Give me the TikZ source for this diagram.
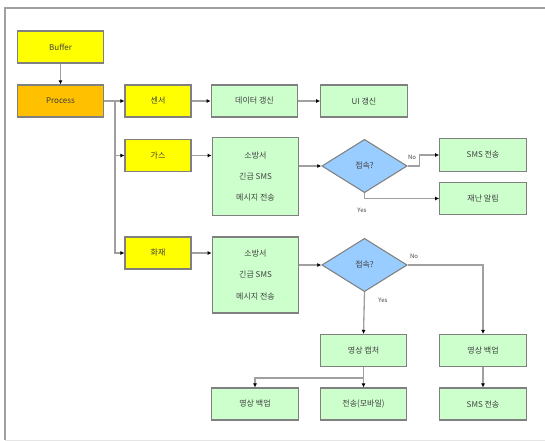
\documentclass[tikz,border=0pt]{standalone}
\usepackage{fontspec}
\setmainfont{Noto Sans CJK KR}
\usetikzlibrary{arrows.meta,positioning,shapes.geometric}
\definecolor{boxyellow}{HTML}{FFFF00}
\definecolor{boxorange}{HTML}{FFC000}
\definecolor{boxgreen}{HTML}{CCFFCC}
\definecolor{boxblue}{HTML}{99CCFF}
\definecolor{edgegray}{HTML}{808080}
\definecolor{linegray}{HTML}{A0A0A0}

\begin{document}
\begin{tikzpicture}[
    x=0.75pt, y=-0.75pt,
    every node/.style = {font=\fontsize{6}{16}\selectfont, text=black!75},
    box/.style = {draw=edgegray, line width=0.8pt, align=center, inner sep=1pt,
                  minimum width=65pt, minimum height=24pt},
    ybox/.style = {box, fill=boxyellow, minimum width=49.5pt},
    gbox/.style = {box, fill=boxgreen},
    decide/.style = {diamond, draw=edgegray, line width=0.8pt, fill=boxblue, inner sep=0pt,
                     minimum width=64pt, minimum height=40pt},
    link/.style = {draw=linegray, line width=1pt, -{Latex[length=3pt, width=3pt, black]}},
    tag/.style = {font=\fontsize{4.5}{5}\selectfont}
  ]
  \useasboundingbox (0,0) rectangle (545,441);
  \draw[linegray, line width=1.2pt] (5,440) -- (5,8) -- (545,8);
  \draw[black!10, line width=0.6pt] (5,440) -- (545,440);

  \node[box, fill=boxyellow] (buffer) at (60.5,47) {Buffer};
  \node[box, fill=boxorange] (process) at (60.5,101) {Process};

  \node[ybox] (sensor) at (158,101) {센서};
  \node[ybox] (gas) at (158,155.5) {가스};
  \node[ybox] (fire) at (158,253) {화재};

  \node[gbox] (data) at (254.5,101) {데이터 갱신};
  \node[gbox] (ui) at (364,101) {UI 갱신};

  \node[gbox, minimum height=58pt] (stationgas) at (255.5,176.5) {소방서\\긴급 SMS\\메시지 전송};
  \node[decide] (conngas) at (364.5,166) {접속?};
  \node[gbox, minimum height=25pt] (smsgas) at (483,155) {SMS 전송};
  \node[gbox] (alarm) at (483,198.5) {재난 알림};

  \node[gbox, minimum height=57pt] (stationfire) at (255.5,275) {소방서\\긴급 SMS\\메시지 전송};
  \node[decide] (connfire) at (364.5,265) {접속?};

  \node[gbox] (capture) at (363.5,350.5) {영상 캡처};
  \node[gbox] (backupright) at (483,350.5) {영상 백업};
  \node[gbox] (backupleft) at (255,404) {영상 백업};
  \node[gbox] (mobile) at (363.5,404) {전송(모바일)};
  \node[gbox] (smsright) at (483,404) {SMS 전송};

  \coordinate (split) at (115,101);

  \draw[link] (buffer) -- (process);
  \draw[link] (process.east) -- (split) -- (sensor.west);
  \draw[link] (split) |- (gas.west);
  \draw[link] (split) |- (fire.west);
  \draw[link] (sensor) -- (data);
  \draw[link] (data) -- (ui);

  \draw[link] (gas) -- (stationgas.west |- gas.east);
  \draw[link] (stationgas.east |- conngas.west) -- (conngas.west);
  \draw[link] (conngas.east) -- ++(12,0) |- (smsgas.west);
  \draw[link] (conngas.south) |- (alarm.west);
  \node[tag] (nogas) at (412,157) {No};
  \node[tag] (yesgas) at (362,210) {Yes};

  \draw[link] (fire) -- (stationfire.west |- fire.east);
  \draw[link] (stationfire.east |- connfire.west) -- (connfire.west);
  \draw[link] (connfire.east) -| (backupright.north);
  \draw[link] (connfire.south) -- (capture.north);
  \node[tag] (nofire) at (414,256) {No};
  \node[tag] (yesfire) at (383,300) {Yes};

  \draw[link] (capture.south) -- ++(0,11) -| (backupleft.north);
  \draw[link] (capture.south) -- (mobile.north);
  \draw[link] (backupright) -- (smsright);
\end{tikzpicture}
\end{document}
